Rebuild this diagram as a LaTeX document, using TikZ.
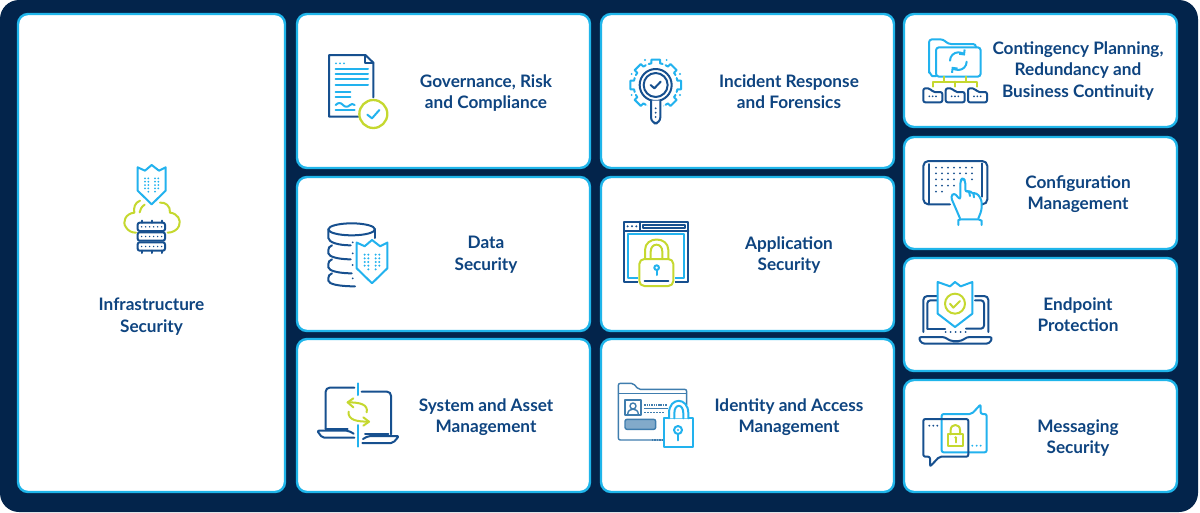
\documentclass[tikz,border=0pt]{standalone}
\usepackage{fontspec}
\setmainfont{Lato}
\usetikzlibrary{arrows.meta}
\definecolor{bgnavy}{HTML}{03244B}
\definecolor{cardline}{HTML}{1FB5EA}
\definecolor{txtblue}{HTML}{0E4480}
\definecolor{nv}{HTML}{17508F}
\definecolor{cy}{HTML}{22B2EE}
\definecolor{lm}{HTML}{C5D82F}
\definecolor{st}{HTML}{3F7DAE}
\tikzset{
  card/.style={draw=cardline,fill=white,line width=2.4pt,rounded corners=10pt,inner sep=0pt,outer sep=0pt},
  lbl/.style={text=txtblue,align=center,font=\fontsize{17.2}{21.6}\selectfont\bfseries,inner sep=0pt},
  ic/.style={line width=2pt,line join=round,line cap=round},
  icn/.style={ic,draw=nv},
  icc/.style={ic,draw=cy},
  icl/.style={ic,draw=lm},
  ics/.style={line width=1.4pt,line join=round,draw=st},
  zoomed/.style={x=0.33333pt,y=-0.33333pt},
  barb/.style={-{Straight Barb[length=3.5pt,width=7pt,line width=2pt]}}
}
% shield in local coordinates: centre x=0, top peak y=0, width 2*42, height 118
\newcommand{\shieldshape}{%
  \draw[icc,fill=white] (-42,7) -- (-20,17) -- (0,0) -- (22,17) -- (42,7) -- (42,77) -- (0,118) -- (-42,77) -- cycle;
  \foreach \yy in {40,50,60,70}{
    \foreach \xx in {-20,-10,10,20}{
      \fill[cy] (\xx,\yy) circle[radius=3];
    }
  }
  \foreach \xx in {-10,10}{\fill[cy] (\xx,80) circle[radius=3];}}
\begin{document}
\begin{tikzpicture}[x=1pt,y=-1pt]
\useasboundingbox (0,0) rectangle (1200,512);
\fill[white] (0,0) rectangle (1200,512);
\fill[bgnavy,rounded corners=19pt] (0,0) rectangle (1198,512);
% cards
\node[card,minimum width=267pt,minimum height=478pt] (c0) at (151.5,253) {};
\node[card,minimum width=293pt,minimum height=154pt] (c1) at (443.5,91) {};
\node[card,minimum width=293pt,minimum height=154pt] (c2) at (443.5,254) {};
\node[card,minimum width=293pt,minimum height=153pt] (c3) at (443.5,415.5) {};
\node[card,minimum width=293pt,minimum height=154pt] (c4) at (747.5,91) {};
\node[card,minimum width=293pt,minimum height=154pt] (c5) at (747.5,254) {};
\node[card,minimum width=293pt,minimum height=153pt] (c6) at (747.5,415.5) {};
\node[card,minimum width=273pt,minimum height=113pt] (c7) at (1040.5,70.5) {};
\node[card,minimum width=273pt,minimum height=112pt] (c8) at (1040.5,193) {};
\node[card,minimum width=273pt,minimum height=113pt] (c9) at (1040.5,314.5) {};
\node[card,minimum width=273pt,minimum height=112pt] (c10) at (1040.5,436) {};
% labels
\node[lbl] (t0) at (151.5,316.5) {Infrastructure\\Security};
\node[lbl] (t1) at (486,93) {Governance, Risk\\and Compliance};
\node[lbl] (t2) at (486,255) {Data\\Security};
\node[lbl] (t3) at (486,417) {System and Asset\\Management};
\node[lbl] (t4) at (789,91.5) {Incident Response\\and Forensics};
\node[lbl] (t5) at (789,255) {Application\\Security};
\node[lbl] (t6) at (789,417) {Identity and Access\\Management};
\node[lbl] (t7) at (1078,71) {Contingency Planning,\\Redundancy and\\Business Continuity};
\node[lbl] (t8) at (1078,194) {Configuration\\Management};
\node[lbl] (t9) at (1078,314.5) {Endpoint\\Protection};
\node[lbl] (t10) at (1078,438) {Messaging\\Security};

% ---- Infrastructure icon
\begin{scope}[shift={(100,150)},zoomed]
  \begin{scope}[shift={(155,45)}]\shieldshape\end{scope}
  \draw[icl] (120,152) .. controls (105,158) and (100,172) .. (103,188)
             .. controls (78,190) and (65,215) .. (78,232) .. controls (85,243) and (95,248) .. (108,248);
  \draw[icl] (134,164) .. controls (125,170) and (120,178) .. (119,187);
  \draw[icl] (180,158) .. controls (195,155) and (212,168) .. (210,188)
             .. controls (232,190) and (245,210) .. (237,228) .. controls (232,240) and (218,248) .. (203,248);
  \foreach \yy in {218,247,277}{
    \draw[icn,fill=white,rounded corners=2pt] (113,\yy) rectangle (195,\yy+25);
    \foreach \xx in {125,137,149,161,173,185}{\fill[nv] (\xx,\yy+12.5) circle[radius=2.4];}
  }
  \foreach \xx in {125,155,185}{
    \draw[icn] (\xx,212) -- (\xx,218);
    \draw[icn] (\xx,302) -- (\xx,309);
  }
\end{scope}

% ---- Document icon
\begin{scope}[shift={(310,40)},zoomed]
  \draw[icn] (190,172) -- (190,68) -- (166,45) -- (57,45) -- (57,230) -- (145,230);
  \draw[icn] (166,45) -- (166,68) -- (190,68);
  \foreach \xx in {78,90,102}{\fill[cy] (\xx,70) circle[radius=3.2];}
  \foreach \yy in {87,102,118,134}{\draw[icc] (77,\yy) -- (174,\yy);}
  \foreach \yy in {157,170}{\draw[icc] (77,\yy) -- (121,\yy);}
  \draw[icc] (77,195) .. controls (85,187) and (92,187) .. (99,195) .. controls (106,202) and (113,202) .. (120,195) .. controls (124,191) and (128,191) .. (134,195);
  \draw[icc] (77,211) -- (134,211);
  \draw[icl,line width=2.3pt,fill=white] (190,222) circle[radius=42];
  \draw[icc] (172,224) -- (186,235) -- (208,210);
\end{scope}

% ---- Database icon
\begin{scope}[shift={(310,210)},zoomed]
  \draw[icn] (125,58) ellipse[x radius=70,y radius=18];
  \draw[icn] (195,58) -- (195,84);
  \draw[icn] (55,58) -- (55,84) .. controls (56,97) and (85,106) .. (122,106);
  \draw[icn] (66,106) .. controls (58,110) and (55,113) .. (55,120) -- (55,130) .. controls (56,140) and (85,148) .. (122,148);
  \draw[icn] (66,148) .. controls (58,152) and (55,155) .. (55,162) -- (55,172) .. controls (56,182) and (85,190) .. (125,190);
  \draw[icn] (66,190) .. controls (58,194) and (55,197) .. (55,204) -- (55,212) .. controls (56,222) and (85,229) .. (135,229);
  \foreach \yy in {97,130,165,205}{\fill[nv] (128,\yy) circle[radius=3];}
  \begin{scope}[shift={(186,90)},scale=1.1]\shieldshape\end{scope}
\end{scope}

% ---- Laptops icon
\begin{scope}[shift={(305,375)},zoomed]
  \draw[icn,rounded corners=4pt] (62,162) -- (62,38) -- (148,38);
  \draw[icn,rounded corners=4pt] (170,50) -- (258,50) -- (258,178);
  \draw[icn] (180,178) -- (250,178);
  \draw[icn] (62,162) -- (128,162);
  \draw[icn,rounded corners=2pt] (148,188) -- (52,188) -- (36,167) -- (130,167) -- (146,176);
  \draw[icn,rounded corners=2pt] (172,204) -- (264,204) -- (282,183) -- (190,183) -- (174,192);
  \draw[icc] (160,25) -- (160,60);
  \draw[icc] (160,150) -- (160,215);
  \draw[icl] (185,112) .. controls (190,88) and (165,82) .. (128,82);
  \draw[icl] (145,70) -- (128,82) -- (145,97);
  \draw[icl] (131,110) .. controls (128,135) and (155,140) .. (192,140);
  \draw[icl] (175,127) -- (192,140) -- (175,152);
\end{scope}

% ---- Gear and lens icon
\begin{scope}[shift={(615,50)},zoomed]
  \foreach \aa in {0,45,...,315}{
    \begin{scope}[shift={(122,105)},rotate=\aa]
      \draw[icc] (-21,-63) -- (-13,-65) -- (-13,-76) -- (13,-76) -- (13,-65) -- (21,-63);
    \end{scope}
  }
  \foreach \xx/\yy in {90/30,155/30,50/72,195/72,50/135,195/135}{\fill[cy] (\xx,\yy) circle[radius=3.2];}
  \fill[white] (100,150) rectangle (144,190);
  \draw[icn] (122,105) circle[radius=48];
  \draw[icn] (122,105) circle[radius=36];
  \draw[icn] (107,105) -- (118,115) -- (137,95);
  \draw[icn,fill=white,rounded corners=6pt] (108,152) -- (108,220) -- (136,220) -- (136,152);
  \foreach \yy in {175,188,201}{\fill[nv] (122,\yy) circle[radius=3.2];}
\end{scope}

% ---- Browser and lock icon
\begin{scope}[shift={(610,210)},zoomed]
  \draw[icn] (42,35) rectangle (235,215);
  \draw[icn] (42,62) -- (235,62);
  \draw[icn] (90,35) -- (90,62);
  \foreach \xx in {53,66,79}{\fill[nv] (\xx,49) circle[radius=3.4];}
  \draw[icn] (98,44) rectangle (226,55);
  \draw[icc] (55,72) rectangle (222,205);
  \fill[white] (84,143) rectangle (194,232);
  \draw[icl,fill=white,rounded corners=5pt] (88,147) rectangle (190,228);
  \draw[icl] (105,147) -- (105,120) .. controls (105,78) and (175,78) .. (175,120) -- (175,147);
  \draw[icl] (122,147) -- (122,125) .. controls (122,97) and (157,97) .. (157,125) -- (157,147);
  \draw[icc] (140,173) circle[radius=7];
  \draw[icc] (140,181) -- (140,195);
  \draw[icn] (104,213) -- (175,213);
\end{scope}

% ---- Folder and lock icon
\begin{scope}[shift={(605,370)},zoomed]
  \draw[ics,rounded corners=2pt] (175,210) -- (40,210) -- (40,40) -- (85,40) -- (100,58) -- (245,58) -- (245,105);
  \draw[ics] (42,70) -- (245,70);
  \draw[ics] (60,90) rectangle (108,135);
  \draw[ics] (84,108) circle[radius=9];
  \draw[ics] (68,133) .. controls (68,112) and (100,112) .. (100,133);
  \draw[st,line width=1.6pt,dash pattern=on 1.5pt off 0.8pt] (118,105) -- (185,105);
  \draw[st,line width=1.4pt] (118,115) -- (190,115);
  \draw[st,line width=1.4pt,dash pattern=on 2pt off 1pt] (118,128) -- (178,128);
  \draw[ics,fill=st!65,rounded corners=2pt] (60,148) rectangle (152,178);
  \draw[st,line width=1.2pt,dash pattern=on 1.5pt off 1pt] (140,210) -- (175,210);
  \draw[icc,fill=white] (177,145) rectangle (265,232);
  \draw[icc,fill=white] (192,145) -- (192,130) .. controls (192,80) and (250,80) .. (250,130) -- (250,145);
  \draw[icc] (208,145) -- (208,130) .. controls (208,100) and (235,100) .. (235,130) -- (235,145);
  \draw[icc] (219,180) circle[radius=12];
  \fill[cy] (219,180) circle[radius=3.5];
  \draw[icc] (219,192) -- (219,211);
\end{scope}

% ---- Folders icon
\begin{scope}[shift={(910,30)},zoomed]
  \draw[icc,rounded corners=3pt] (57,128) -- (57,28) -- (100,28) -- (114,42) -- (198,42) -- (198,52);
  \draw[icc,rounded corners=3pt] (78,52) -- (212,52) -- (212,140) -- (78,140) -- cycle;
  \draw[icc] (57,125) -- (66,138) -- (78,138);
  \draw[icc,barb] (120,92) arc[start angle=180,end angle=322,radius=25];
  \draw[icc,barb] (170,95) arc[start angle=0,end angle=142,radius=25];
  \draw[icl] (102,140) -- (102,155);
  \draw[icl] (168,140) -- (168,155);
  \draw[icl] (68,170) -- (68,155) -- (202,155) -- (202,170);
  \draw[icl] (135,155) -- (135,170);
  \foreach \xx in {40,107,174}{
    \begin{scope}[shift={(\xx,0)}]
      \draw[icn,rounded corners=2pt] (0,175) -- (20,175) -- (28,186) -- (57,186) -- (57,217) -- (0,217) -- cycle;
      \foreach \dd in {18,28,38}{\fill[nv] (\dd,199) circle[radius=2.8];}
    \end{scope}
  }
\end{scope}

% ---- Touch tablet icon
\begin{scope}[shift={(910,150)},zoomed]
  \draw[icn,rounded corners=5pt] (120,163) -- (40,163) -- (40,33) -- (232,33) -- (232,163) -- (212,163);
  \draw[icn] (58,42) -- (58,162);
  \draw[icn] (215,40) -- (215,140);
  \foreach \yy in {53,70}{\foreach \xx in {78,96,114,132,150,168,186}{\fill[nv] (\xx,\yy) circle[radius=3.2];}}
  \foreach \xx in {78,96,114,132,186}{\fill[nv] (\xx,88) circle[radius=3.2];}
  \foreach \xx in {78,96,114,132}{\fill[nv] (\xx,107) circle[radius=3.2];}
  \foreach \xx in {78,96}{\fill[nv] (\xx,125) circle[radius=3.2];}
  \draw[icc,fill=white,rounded corners=3pt] (150,205) -- (122,140) -- (132,128) -- (151,150) -- (151,92) -- (158,84) -- (166,92) -- (166,128) -- (178,120) -- (186,132) -- (200,128) -- (215,150) -- (215,180) -- (205,205);
  \draw[icc] (177,125) -- (180,138);
  \draw[icc] (190,130) -- (192,142);
  \draw[icc] (145,225) -- (145,210) -- (154,208) -- (205,208) -- (215,212) -- (215,225);
\end{scope}

% ---- Laptop and shield icon
\begin{scope}[shift={(910,272)},zoomed]
  \draw[icn,rounded corners=4pt] (40,180) -- (40,72) -- (80,72);
  \draw[icn,rounded corners=4pt] (195,72) -- (235,72) -- (235,180);
  \draw[icn,rounded corners=3pt] (52,170) -- (52,85) -- (80,85);
  \draw[icn,rounded corners=3pt] (195,85) -- (222,85) -- (222,170) -- (168,170);
  \draw[icn] (52,170) -- (105,170);
  \foreach \xx in {107,122,137,152,167}{\fill[nv] (\xx,180) circle[radius=2.8];}
  \draw[icn,rounded corners=3pt] (25,195) -- (105,195) -- (120,207) -- (155,207) -- (170,195) -- (248,195) -- (238,215) -- (35,215) -- cycle;
  \draw[icc,fill=white] (83,30) -- (120,43) -- (135,30) -- (152,43) -- (187,30) -- (187,125) -- (135,165) -- (83,125) -- cycle;
  \draw[icl] (135,95) circle[radius=30];
  \draw[icl] (120,95) -- (130,107) -- (150,87);
\end{scope}

% ---- Messaging icon
\begin{scope}[shift={(910,395)},zoomed]
  \draw[icc,rounded corners=2pt] (95,172) -- (95,57) -- (185,57) -- (212,28) -- (212,57) -- (230,57) -- (230,172) -- cycle;
  \draw[icn,rounded corners=2pt] (40,72) -- (175,72) -- (175,185) -- (88,185) -- (60,215) -- (60,185) -- (40,185) -- cycle;
  \foreach \xx in {58,70,82}{\fill[nv] (\xx,92) circle[radius=3.2];}
  \foreach \xx in {187,200,212}{\fill[cy] (\xx,152) circle[radius=3.2];}
  \draw[icl] (113,118) rectangle (160,152);
  \draw[icl] (122,118) -- (122,105) .. controls (122,85) and (150,85) .. (150,105) -- (150,118);
  \fill[lm] (137,128) circle[radius=4.5];
  \draw[icl] (137,130) -- (137,142);
\end{scope}
\end{tikzpicture}
\end{document}
